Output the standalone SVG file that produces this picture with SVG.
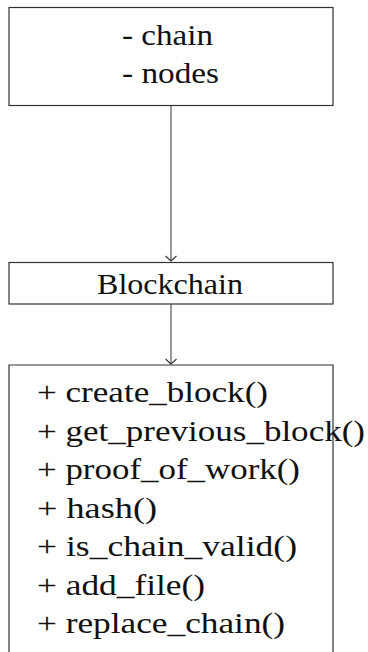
<svg xmlns="http://www.w3.org/2000/svg" width="368" height="652" viewBox="0 0 368 652">
<defs>
<style>
.box{fill:#fff;stroke:#333;stroke-width:1.2}
.txt{font-family:'Liberation Serif','DejaVu Serif',serif;font-size:30px;fill:#111}
.conn{stroke:#555;stroke-width:1.2;fill:none}
.head{stroke:#333;stroke-width:1.1;fill:none}
</style>
<marker id="to" markerUnits="userSpaceOnUse" markerWidth="14" markerHeight="14" refX="0" refY="0" orient="auto" overflow="visible" viewBox="-7 -7 14 14">
<path class="head" d="M-5,-5.5 Q-1,-1.2 0,0 Q-1,1.2 -5,5.5"/>
</marker>
</defs>
<rect width="368" height="652" fill="#fff"/>
<g id="connectors">
<line class="conn" x1="171" y1="106" x2="171" y2="261" marker-end="url(#to)"/>
<line class="conn" x1="171" y1="304" x2="171" y2="364" marker-end="url(#to)"/>
</g>
<g id="attributes">
<rect class="box" x="9" y="7.5" width="324" height="98"/>
<text class="txt" font-family="Liberation Serif, serif" x="122" y="45" textLength="91" lengthAdjust="spacingAndGlyphs">- chain</text>
<text class="txt" font-family="Liberation Serif, serif" x="122" y="83" textLength="97" lengthAdjust="spacingAndGlyphs">- nodes</text>
</g>
<g id="blockchain">
<rect class="box" x="9" y="262.5" width="324" height="41.5"/>
<text class="txt" font-family="Liberation Serif, serif" x="97" y="294" textLength="146" lengthAdjust="spacingAndGlyphs">Blockchain</text>
</g>
<g id="methods">
<path class="box" d="M9,660 V365 H333 V660"/>
<text class="txt" font-family="Liberation Serif, serif" x="37" y="402" textLength="231" lengthAdjust="spacingAndGlyphs">+ create_block()</text>
<text class="txt" font-family="Liberation Serif, serif" x="37" y="440.5" textLength="328" lengthAdjust="spacingAndGlyphs">+ get_previous_block()</text>
<text class="txt" font-family="Liberation Serif, serif" x="37" y="479" textLength="263" lengthAdjust="spacingAndGlyphs">+ proof_of_work()</text>
<text class="txt" font-family="Liberation Serif, serif" x="37" y="517.5" textLength="120" lengthAdjust="spacingAndGlyphs">+ hash()</text>
<text class="txt" font-family="Liberation Serif, serif" x="37" y="556" textLength="260" lengthAdjust="spacingAndGlyphs">+ is_chain_valid()</text>
<text class="txt" font-family="Liberation Serif, serif" x="37" y="594.5" textLength="168" lengthAdjust="spacingAndGlyphs">+ add_file()</text>
<text class="txt" font-family="Liberation Serif, serif" x="37" y="633" textLength="248" lengthAdjust="spacingAndGlyphs">+ replace_chain()</text>
</g>
</svg>
